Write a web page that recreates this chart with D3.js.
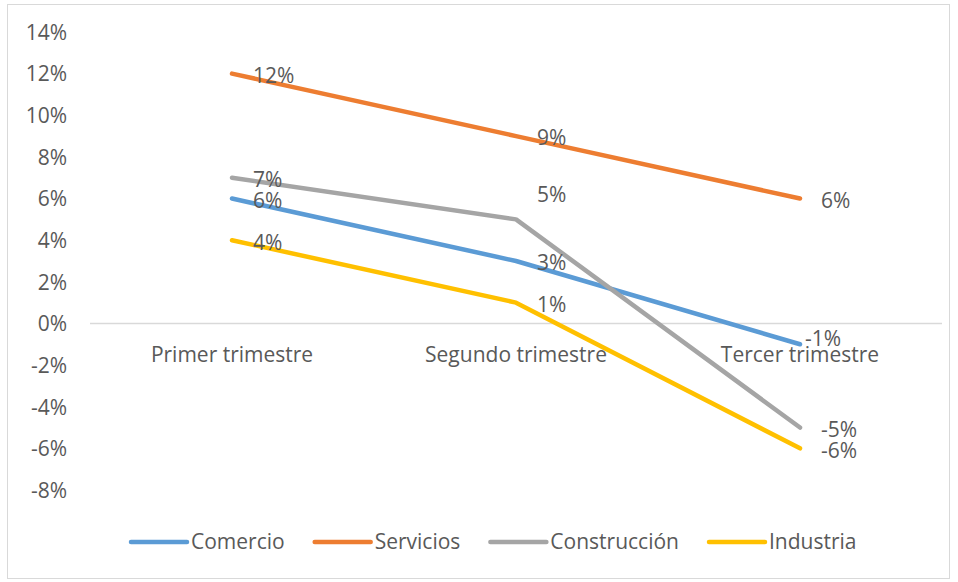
<!DOCTYPE html>
<html>
<head>
<meta charset="utf-8">
<script src="https://cdn.jsdelivr.net/npm/d3@7"></script>
<style>
  body { margin: 0; background: #fff; }
  text { font-family: "Open Sans", sans-serif; fill: #595959; }
</style>
</head>
<body>
<div id="chart"></div>
<script>
var categories = ["Primer trimestre", "Segundo trimestre", "Tercer trimestre"];
var seriesNames = ["Comercio", "Servicios", "Construcción", "Industria"];
var comercio = [0.06, 0.03, -0.01];
var servicios = [0.12, 0.09, 0.06];
var construccion = [0.07, 0.05, -0.05];
var industria = [0.04, 0.01, -0.06];
var yTicks = [-0.08, -0.06, -0.04, -0.02, 0, 0.02, 0.04, 0.06, 0.08, 0.10, 0.12, 0.14];
var colors = ["#5B9BD5", "#ED7D31", "#A5A5A5", "#FFC000"];

var width = 958, height = 582;
var fontSize = "21px";

var series = [comercio, servicios, construccion, industria].map((values, i) => ({
  name: seriesNames[i], color: colors[i], values: values
}));

// label nudges (Excel moved a couple by hand)
var labelNudge = { "Construcción-1": [0, -27], "Comercio-2": [-16, -8] };

var svg = d3.select("#chart").append("svg")
            .attr("width", width)
            .attr("height", height);

svg.append("rect")
   .attr("x", 7.5).attr("y", 4.5)
   .attr("width", 942).attr("height", 574)
   .attr("fill", "#fff")
   .attr("stroke", "#d9d9d9");

var x = d3.scaleBand()
          .domain(categories)
          .range([90, 942]);

var y = d3.scaleLinear()
          .domain([-0.08, 0.14])
          .range([490, 32]);

var fmt = d3.formatLocale({ decimal: ".", thousands: ",", grouping: [3], currency: ["", ""], minus: "-" }).format(".0%");

// y axis labels
var yAxis = d3.axisLeft(y).tickValues(yTicks).tickFormat(fmt).tickSize(0).tickPadding(0);
var gy = svg.append("g")
            .attr("transform", "translate(67,0)")
            .call(yAxis);
gy.select(".domain").remove();
gy.selectAll("text")
  .style("font-size", fontSize)
  .attr("fill", "#595959")
  .attr("dy", "0.35em");

// zero line
svg.append("line")
   .attr("x1", 90).attr("x2", 942)
   .attr("y1", y(0)).attr("y2", y(0))
   .attr("stroke", "#d9d9d9")
   .attr("stroke-width", 1.5);

// category labels
var xAxis = d3.axisBottom(x).tickSize(0).tickPadding(0);
var gx = svg.append("g")
            .attr("transform", "translate(0," + (y(0) + 39) + ")")
            .call(xAxis);
gx.select(".domain").remove();
gx.selectAll("text")
  .style("font-size", fontSize)
  .attr("fill", "#595959")
  .attr("dy", "0");

var line = d3.line()
             .x((d, i) => x(categories[i]) + x.bandwidth() / 2)
             .y(d => y(d));

svg.selectAll("path.series")
   .data(series)
   .enter().append("path")
   .attr("class", "series")
   .attr("d", d => line(d.values))
   .attr("fill", "none")
   .attr("stroke", d => d.color)
   .attr("stroke-width", 4.5)
   .attr("stroke-linecap", "round")
   .attr("stroke-linejoin", "round");

// data labels
series.forEach(s => {
  s.values.forEach((v, i) => {
    var nudge = labelNudge[s.name + "-" + i] || [0, 0];
    svg.append("text")
       .attr("x", x(categories[i]) + x.bandwidth() / 2 + 21 + nudge[0])
       .attr("y", y(v) + 2 + nudge[1])
       .attr("dy", "0.35em")
       .style("font-size", fontSize)
       .text(fmt(v));
  });
});

// legend
var legend = svg.append("g").attr("transform", "translate(0,542)");
var lx = 131;
series.forEach(s => {
  var item = legend.append("g").attr("transform", "translate(" + lx + ",0)");
  item.append("line")
      .attr("x1", 0).attr("x2", 56)
      .attr("y1", 0).attr("y2", 0)
      .attr("stroke", s.color)
      .attr("stroke-width", 4.5)
      .attr("stroke-linecap", "round");
  var t = item.append("text")
      .attr("x", 60)
      .attr("dy", "0.35em")
      .style("font-size", fontSize)
      .text(s.name);
  lx += 60 + t.node().getComputedTextLength() + 30;
});
</script>
</body>
</html>
